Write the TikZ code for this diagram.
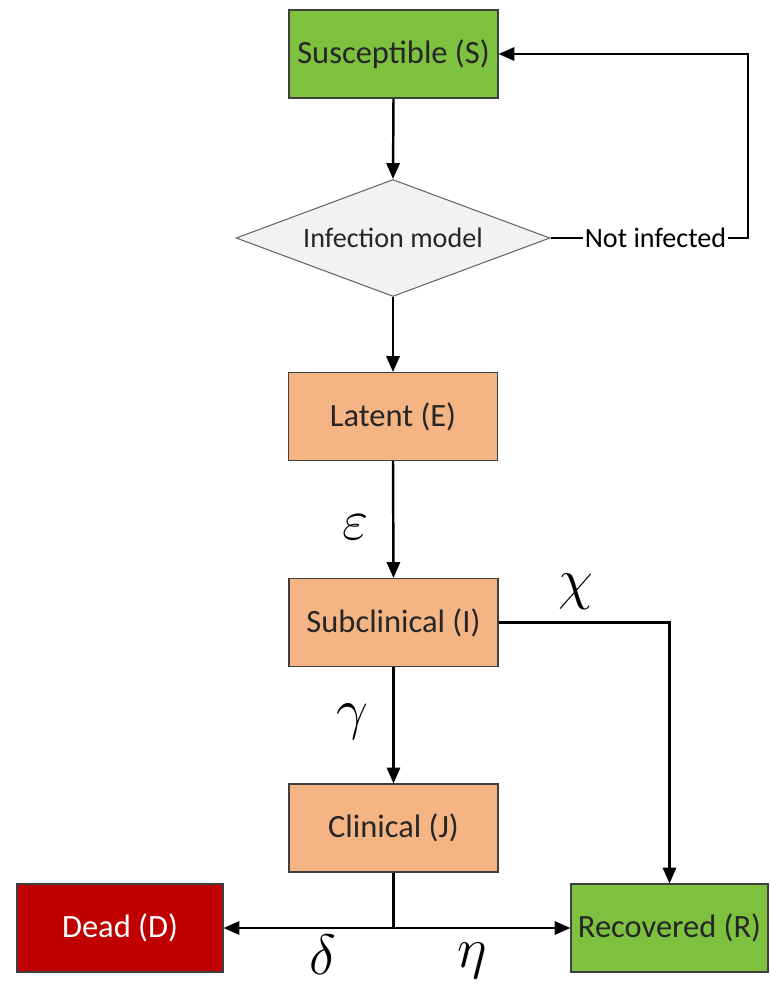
\documentclass[tikz,border=0pt]{standalone}
\usepackage{amsmath,amssymb}
\usepackage{fontspec}
\setmainfont{Carlito}
\usetikzlibrary{shapes.geometric,arrows.meta}
\definecolor{stategreen}{RGB}{125,193,62}
\definecolor{stateorange}{RGB}{244,180,132}
\definecolor{statered}{RGB}{192,0,0}
\definecolor{modelgray}{RGB}{242,242,242}
\newcommand{\ratelabel}[1]{\scalebox{1.3}{$#1$}}
\tikzset{
    statebox/.style={draw=black!75, line width=0.6pt, minimum width=4.18cm, minimum height=1.76cm,
        inner sep=0pt, text=black!85, font=\fontsize{18.5}{22}\selectfont},
    flow/.style={line width=1.4pt, -{Triangle[length=9pt,width=7.5pt]}},
    link/.style={line width=1.4pt},
    rate/.style={font=\fontsize{24}{28}\selectfont, inner sep=0pt}
}

\begin{document}
\begin{tikzpicture}[x=0.02cm,y=-0.02cm]
    \useasboundingbox (0,0) rectangle (770,987);

    % Compartments
    \node[statebox, fill=stategreen] (S) at (393.5,54) {Susceptible (S)};
    \node[draw=black!60, line width=0.6pt, fill=modelgray, shape=diamond, aspect=2.68, inner sep=0pt,
        minimum width=6.28cm, minimum height=2.34cm, font=\fontsize{16}{19}\selectfont, text=black!85]
        (M) at (393,238) {Infection model};
    \node[statebox, fill=stateorange] (E) at (393,416.5) {Latent (E)};
    \node[statebox, fill=stateorange] (I) at (393.5,622.5) {Subclinical (I)};
    \node[statebox, fill=stateorange] (J) at (393.5,828) {Clinical (J)};
    \node[statebox, fill=statered, text=white, minimum width=4.12cm] (D) at (120,928) {Dead (D)};
    \node[statebox, fill=stategreen, minimum width=3.94cm] (R) at (669.5,928) {Recovered (R)};

    % Not infected loop
    \node[font=\fontsize{16}{19}\selectfont, inner sep=1pt] (N) at (655.5,238) {Not infected};
    \coordinate (turn) at (748,238);
    \draw[link] (M.east) -- (N.west);
    \draw[flow] (N.east) -- (turn) |- (S.east);

    % Main flow
    \draw[flow] (S.south) -- (M.north);
    \draw[flow] (M.south) -- (E.north);
    \draw[flow] (E.south) -- (I.north);
    \draw[flow] (I.south) -- (J.north);
    \draw[flow] (I.east) -| (R.north);

    % Outcome of clinical cases
    \coordinate (split) at (393.5,928);
    \draw[link] (J.south) -- (split);
    \draw[flow] (split) -- (D.east);
    \draw[flow] (split) -- (R.west);

    % Rates
    \node[rate] (eps) at (356,527) {\ratelabel{\varepsilon}};
    \node[rate] (chi) at (576,592) {\ratelabel{\chi}};
    \node[rate] (gam) at (352,722) {\ratelabel{\gamma}};
    \node[rate] (del) at (323,955) {\ratelabel{\delta}};
    \node[rate] (eta) at (472,961) {\ratelabel{\eta}};
\end{tikzpicture}
\end{document}
